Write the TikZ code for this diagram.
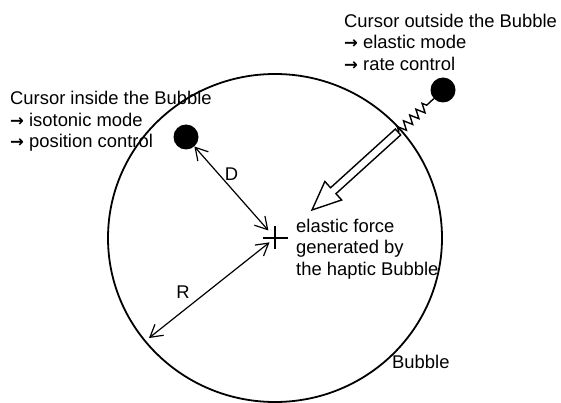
\documentclass[tikz,border=0pt]{standalone}
\usepackage{fontspec}
\setmainfont{Liberation Sans}
\newfontfamily\arrowfont{DejaVu Sans}
\newcommand\rarr{{\fontsize{16.5pt}{16.5pt}\arrowfont\bfseries →}}
\usetikzlibrary{positioning,arrows.meta,calc,decorations.pathmorphing}

\begin{document}
\begin{tikzpicture}[
  x=1pt, y=-1pt,
  font=\fontsize{18.4pt}{21.6pt}\selectfont,
  txt/.style={align=left, inner sep=0pt, anchor=base west},
  lbl/.style={inner sep=0pt},
  dot/.style={circle, fill=black, minimum size=25pt, inner sep=0pt},
  bubble/.style={line width=1.8pt},
  dimarr/.style={{Straight Barb[length=12pt,width=14pt]}-{Straight Barb[length=12pt,width=14pt]}, line width=1.2pt},
  hollow/.style={draw, fill=white, line width=1.4pt, line join=miter},
  spring/.style={line width=1.4pt, decorate, decoration={zigzag, amplitude=4.5pt, segment length=8.5pt, pre length=1pt, post length=6pt}}]
\useasboundingbox (0,0) rectangle (561,403);
\coordinate (ctr) at (275,238);
\coordinate (rim) at (149,338);
\coordinate (base) at (398,132);
\coordinate (tip) at (312,210);
\coordinate (neck) at ($(tip)!28.7pt!(base)$);
\draw[bubble] (ctr) ellipse [x radius=167, y radius=164];
\node[dot] (cin) at (186,137) {};
\node[dot] (cout) at (443,90) {};
\draw[line width=1.8pt] ($(ctr)+(-12.5,0)$) -- ($(ctr)+(12.5,0)$)
  ($(ctr)+(0,-12)$) -- ($(ctr)+(0,11)$);
\draw[dimarr, shorten >=10pt] (cin) -- node[lbl, pos=0.3, xshift=13pt]{D} (ctr);
\draw[dimarr, shorten <=7pt] (ctr) -- node[lbl, pos=0.5, xshift=-29pt, yshift=-4pt]{R} (rim);
\draw[spring] (base) -- (cout);
\draw[hollow] ($(base)!4pt!90:(tip)$) -- ($(neck)!4pt!90:(tip)$) -- ($(neck)!12.5pt!90:(tip)$)
  -- (tip) -- ($(neck)!12.5pt!-90:(tip)$) -- ($(neck)!4pt!-90:(tip)$) -- ($(base)!4pt!-90:(tip)$) -- cycle;
\node[txt] (outside) at (344,70.5) {Cursor outside the Bubble\\\rarr\ elastic mode\\\rarr\ rate control};
\node[txt] (inside) at (10,148) {Cursor inside the Bubble\\\rarr\ isotonic mode\\\rarr\ position control};
\node[txt] (force) at (296,275.5) {elastic force\\generated by\\the haptic Bubble};
\node[txt] (name) at (392,368) {Bubble};
\end{tikzpicture}
\end{document}
